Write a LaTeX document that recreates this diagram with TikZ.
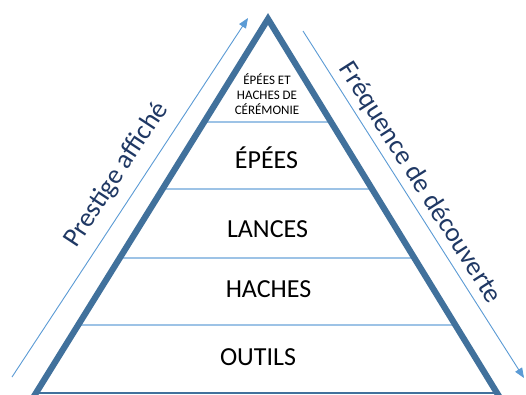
\documentclass[tikz,border=0pt]{standalone}
\usepackage{fontspec}
\setmainfont{Carlito}
\usetikzlibrary{arrows.meta,calc}
\definecolor{pyr}{HTML}{41719C}
\definecolor{divc}{HTML}{9DC3E6}
\definecolor{arr}{HTML}{5B9BD5}
\definecolor{navy}{HTML}{1F3864}
\begin{document}
\begin{tikzpicture}[x=1pt,y=-1pt,
  side/.style={draw=pyr,line width=6.2pt,line join=miter},
  baseline/.style={draw=pyr,line width=2pt},
  divider/.style={draw=divc,line width=1.3pt},
  arrowline/.style={draw=arr,line width=0.9pt,-{Triangle[length=10pt,width=8pt]}},
  lab/.style={text=navy,font=\fontsize{27}{32}\selectfont,inner sep=0pt},
  lvl/.style={text=black,font=\fontsize{26}{30}\selectfont,inner sep=0pt},
  small/.style={text=black,font=\fontsize{13}{15}\selectfont,inner sep=0pt,align=center}]
\useasboundingbox (0,0) rectangle (526,394);
\clip (0,0) rectangle (526,394);
\fill[white] (0,0) rectangle (526,394);
\coordinate (A) at (268,19);
\coordinate (BL) at (36,393);
\coordinate (BR) at (497,393);
% dividers
\foreach \t in {0.7246,0.5455,0.3610,0.1818}
  \draw[divider] ($(BL)!\t!(A)$) -- ($(BR)!\t!(A)$);
% base and sides
\draw[baseline] (BL) -- (BR);
\draw[side] ($(A)!1.05!(BL)$) -- (A) -- ($(A)!1.05!(BR)$);
% level labels
\node[small,anchor=base] (top) at (267,114) {ÉPÉES ET\\HACHES DE\\CÉRÉMONIE};
\node[lvl,anchor=base] (epees) at (266.5,168) {ÉPÉES};
\node[lvl,anchor=base] (lances) at (267.5,237) {LANCES};
\node[lvl,anchor=base] (haches) at (268.5,297) {HACHES};
\node[lvl,anchor=base] (outils) at (258,365) {OUTILS};
% arrows
\coordinate (pa1) at (12,377);
\coordinate (pa2) at (248,18);
\coordinate (fa1) at (303,31);
\coordinate (fa2) at (524,378);
\draw[arrowline] (pa1) -- (pa2);
\draw[arrowline] (fa1) -- (fa2);
\node[lab,rotate=56.7] (prest) at (116.5,175) {Prestige affiché};
\node[lab,rotate=-57.5] (freq) at (420,183) {Fréquence de découverte};
\end{tikzpicture}
\end{document}
